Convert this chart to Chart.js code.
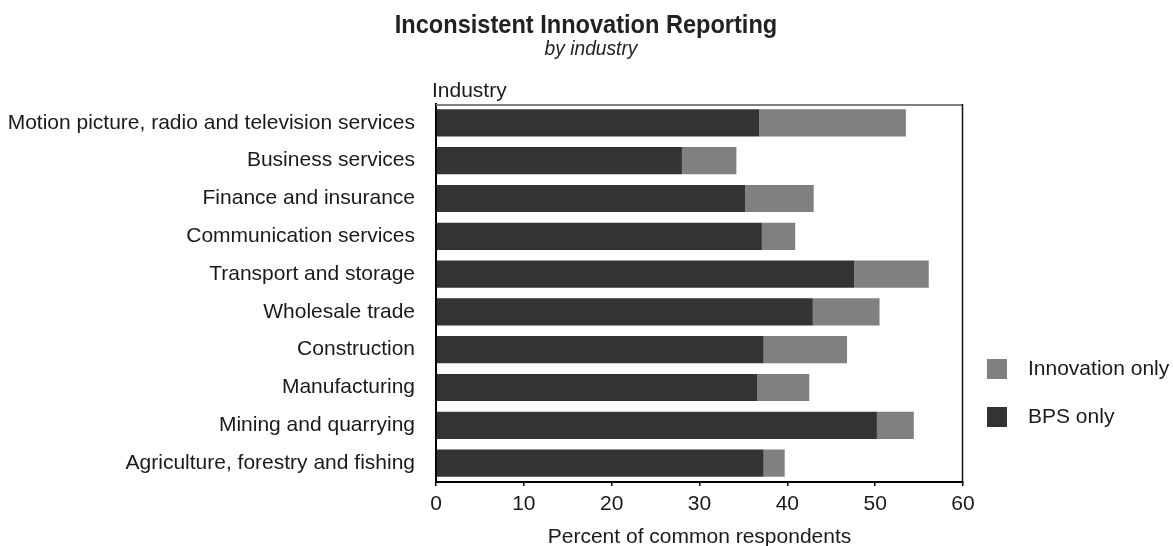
<!DOCTYPE html>
<html>
<head>
<meta charset="utf-8">
<title>Inconsistent Innovation Reporting</title>
<script src="https://cdn.jsdelivr.net/npm/chart.js@4.4.1/dist/chart.umd.min.js"></script>
<style>
  html, body { margin: 0; padding: 0; background: #fff; }
  #wrap { width: 1173px; height: 546px; }
</style>
</head>
<body>
<div id="wrap"><canvas id="chart" width="1173" height="546"></canvas></div>
<script>
// Datos
const industries = [
    'Motion picture, radio and television services',
    'Business services',
    'Finance and insurance',
    'Communication services',
    'Transport and storage',
    'Wholesale trade',
    'Construction',
    'Manufacturing',
    'Mining and quarrying',
    'Agriculture, forestry and fishing'
];
const bpsOnly        = [36.8, 28.0, 35.2, 37.1, 47.6, 42.9, 37.3, 36.6, 50.2, 37.3];
const innovationOnly = [16.7, 6.2, 7.8, 3.8, 8.5, 7.6, 9.5, 5.9, 4.2, 2.4];
const xTicks = [0, 10, 20, 30, 40, 50, 60];

const FONT = "'Liberation Sans', Arial, sans-serif";
const TEXT = '#1a1a1a';

// Texto estrecho (simula Arial Narrow)
function narrowText(ctx, text, x, y, font, scaleX) {
    ctx.save();
    ctx.font = font;
    ctx.textAlign = 'center';
    ctx.textBaseline = 'alphabetic';
    ctx.translate(x, y);
    ctx.scale(scaleX, 1);
    ctx.fillText(text, 0, 0);
    ctx.restore();
}

// Títulos, marco, etiqueta "Industry" y leyenda
const extras = {
    id: 'extras',
    afterDraw(chart) {
        const { ctx, chartArea: a } = chart;
        ctx.save();
        ctx.fillStyle = '#222';
        narrowText(ctx, 'Inconsistent Innovation Reporting', 586, 33, 'bold 25px ' + FONT, 0.943);
        narrowText(ctx, 'by industry', 591, 55, 'italic 21px ' + FONT, 0.915);

        // marco superior gris y borde derecho
        ctx.strokeStyle = '#808080';
        ctx.lineWidth = 2;
        ctx.beginPath();
        ctx.moveTo(a.left, a.top + 1);
        ctx.lineTo(a.right, a.top + 1);
        ctx.stroke();
        ctx.strokeStyle = '#111';
        ctx.lineWidth = 1.5;
        ctx.beginPath();
        ctx.moveTo(a.right - 0.5, a.top);
        ctx.lineTo(a.right - 0.5, a.bottom);
        ctx.stroke();

        ctx.fillStyle = TEXT;
        ctx.font = '21px ' + FONT;
        ctx.textAlign = 'left';
        ctx.textBaseline = 'alphabetic';
        ctx.fillText('Industry', a.left - 4, 97);

        // leyenda (orden inverso: Innovation only arriba)
        ctx.textBaseline = 'middle';
        const items = chart.data.datasets.slice().reverse();
        items.forEach((ds, i) => {
            const cy = 369 + i * 48;
            ctx.fillStyle = ds.backgroundColor;
            ctx.fillRect(987, cy - 10, 20, 20);
            ctx.fillStyle = TEXT;
            ctx.fillText(ds.label, 1028, cy);
        });
        ctx.restore();
    }
};

new Chart(document.getElementById('chart').getContext('2d'), {
    type: 'bar',
    data: {
        labels: industries,
        datasets: [
            { label: 'BPS only', data: bpsOnly, backgroundColor: '#333333' },
            { label: 'Innovation only', data: innovationOnly, backgroundColor: '#808080' }
        ]
    },
    options: {
        indexAxis: 'y',
        responsive: false,
        animation: false,
        layout: { padding: { left: 0, right: 210, top: 104, bottom: 0 } },
        datasets: { bar: { barPercentage: 0.72, categoryPercentage: 1.0, borderWidth: 0 } },
        scales: {
            x: {
                stacked: true,
                min: 0,
                max: 60,
                afterBuildTicks(scale) { scale.ticks = xTicks.map(v => ({ value: v })); },
                afterFit(scale) { scale.height = 64; },
                grid: { display: true, drawOnChartArea: false, drawTicks: true, tickLength: 4, color: '#000', lineWidth: 1.5 },
                border: { display: true, color: '#000', width: 2 },
                ticks: { color: TEXT, font: { size: 21, family: FONT }, padding: 6, maxRotation: 0 },
                title: { display: true, text: 'Percent of common respondents', color: TEXT, font: { size: 21, family: FONT, lineHeight: 0.8 }, padding: { top: 0, bottom: 0 } }
            },
            y: {
                stacked: true,
                afterFit(scale) { scale.width = 436; },
                grid: { display: false },
                border: { display: true, color: '#000', width: 2 },
                ticks: { color: TEXT, font: { size: 21, family: FONT }, padding: 13 }
            }
        },
        plugins: {
            legend: { display: false },
            tooltip: { enabled: false },
            title: { display: false },
            subtitle: { display: false }
        }
    },
    plugins: [extras]
});
</script>
</body>
</html>
